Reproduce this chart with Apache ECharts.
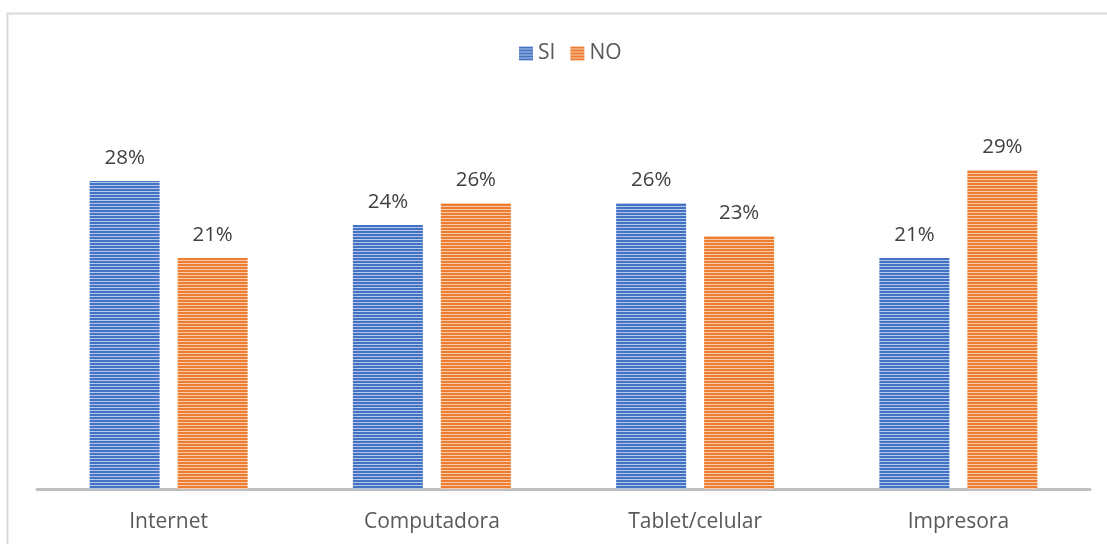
<!DOCTYPE html>
<html>
<head>
<meta charset="utf-8">
<title>Acceso a recursos</title>
<script src="https://cdn.jsdelivr.net/npm/echarts@6/dist/echarts.min.js"></script>
<style>
  html, body { margin: 0; padding: 0; background: #ffffff; }
  #chart { width: 1107px; height: 544px; }
</style>
</head>
<body>
<div id="chart"></div>
<script>
// Categories and values (percentages)
const categories = ['Internet', 'Computadora', 'Tablet/celular', 'Impresora'];
const seriesNames = ['SI', 'NO'];
const siValues = [28, 24, 26, 21];
const noValues = [21, 26, 23, 29];

// Horizontal striped fill for the bars
function stripes(dark, light) {
  const c = document.createElement('canvas');
  c.width = 4;
  c.height = 3;
  const ctx = c.getContext('2d');
  ctx.fillStyle = dark;
  ctx.fillRect(0, 0, 4, 2);
  ctx.fillStyle = light;
  ctx.fillRect(0, 2, 4, 1);
  return { image: c, repeat: 'repeat' };
}

const FONT = '"Open Sans", Lato, sans-serif';
const textColor = '#404040';

const chart = echarts.init(document.getElementById('chart'), null, { renderer: 'canvas' });

const labelCfg = {
  show: true,
  position: 'top',
  distance: 12,
  formatter: '{c}%',
  fontFamily: FONT,
  fontSize: 20.5,
  color: textColor
};

chart.setOption({
  animation: false,
  backgroundColor: '#ffffff',
  graphic: [{
    type: 'rect',
    silent: true,
    shape: { x: 7.5, y: 13.5, width: 1200, height: 600 },
    style: { fill: 'none', stroke: '#d9d9d9', lineWidth: 2 }
  }],
  legend: {
    top: 38,
    left: 514,
    itemWidth: 14,
    itemHeight: 14,
    itemGap: 15,
    icon: 'rect',
    textStyle: { fontFamily: FONT, fontSize: 21, color: '#595959' },
    data: seriesNames
  },
  grid: { left: 37, right: 17, top: 49, bottom: 55 },
  xAxis: {
    type: 'category',
    data: categories,
    axisLine: { lineStyle: { color: '#bfbfbf', width: 3 } },
    axisTick: { show: false },
    axisLabel: { fontFamily: FONT, fontSize: 21, color: '#595959', margin: 23 }
  },
  yAxis: {
    type: 'value',
    min: 0,
    max: 40,
    show: false,
    splitLine: { show: false }
  },
  series: [
    {
      name: seriesNames[0],
      type: 'bar',
      data: siValues,
      barWidth: 70,
      barGap: '25.7%',
      itemStyle: { color: stripes('#4472c4', '#b4c7e7') },
      label: labelCfg
    },
    {
      name: seriesNames[1],
      type: 'bar',
      data: noValues,
      barWidth: 70,
      itemStyle: { color: stripes('#ed7d31', '#f8cbad') },
      label: labelCfg
    }
  ]
});
</script>
</body>
</html>
